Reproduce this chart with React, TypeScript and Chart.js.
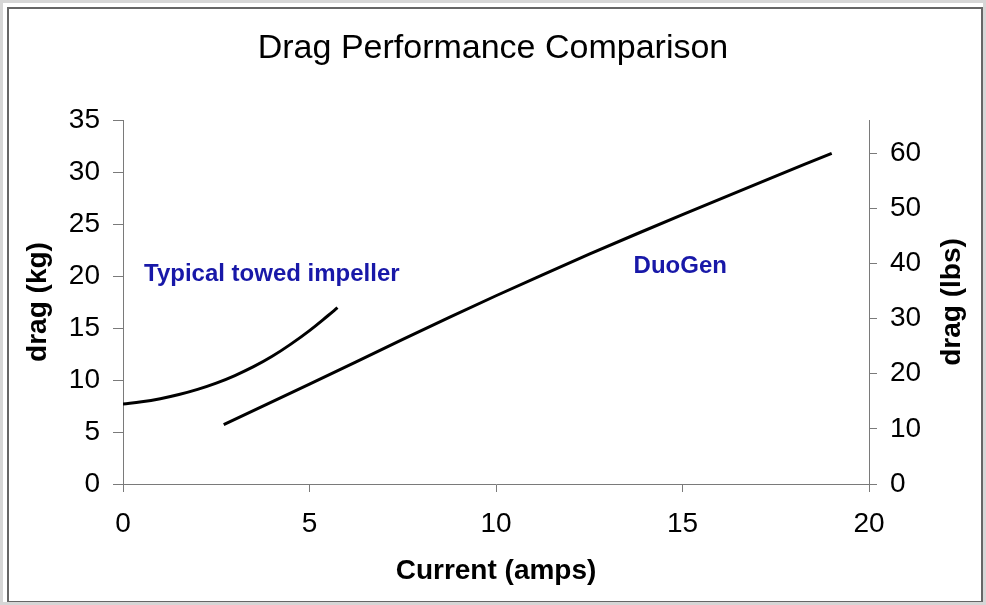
import React, { useEffect, useRef } from "react";
import { Chart, registerables } from "chart.js";

Chart.register(...registerables);

// ---- data ----
const chartTitle = "Drag Performance Comparison";
const xTitle = "Current (amps)";
const yLeftTitle = "drag (kg)";
const yRightTitle = "drag (lbs)";
const seriesNames = ["Typical towed impeller", "DuoGen"];

const xTicks = [0, 5, 10, 15, 20];
const kgTicks = [0, 5, 10, 15, 20, 25, 30, 35];
const lbsTicks = [0, 10, 20, 30, 40, 50, 60];

const impellerCurrent = [0, 0.5, 1, 1.5, 2, 2.5, 3, 3.5, 4, 4.5, 5, 5.5, 5.75];
const impellerDrag = [7.7, 7.9, 8.2, 8.6, 9.1, 9.7, 10.43, 11.28, 12.28, 13.45, 14.75, 16.2, 16.95];

const duogenCurrent = [2.7, 5, 7.5, 10, 12.5, 15, 17.5, 19];
const duogenDrag = [5.7, 9.6, 13.9, 18.1, 22.1, 25.9, 29.6, 31.8];

const FONT = '"Liberation Sans", Arial, Helvetica, sans-serif';

const labelPlugin = {
  id: "seriesLabels",
  afterDatasetsDraw(chart: any, _args: any, opts: any) {
    const ctx = chart.ctx;
    const xs = chart.scales.x;
    const ys = chart.scales.y;
    ctx.save();
    ctx.font = `bold 24px ${FONT}`;
    ctx.fillStyle = "#1818a8";
    ctx.textAlign = "center";
    ctx.textBaseline = "middle";
    (opts.items || []).forEach((it: any) => {
      ctx.fillText(it.text, xs.getPixelForValue(it.x), ys.getPixelForValue(it.y));
    });
    ctx.restore();

    // right axis title, reading bottom-to-top like the left one
    ctx.save();
    ctx.font = `bold 28px ${FONT}`;
    ctx.fillStyle = "#000";
    ctx.textAlign = "center";
    ctx.textBaseline = "middle";
    const ca = chart.chartArea;
    ctx.translate(chart.width - 34, (ca.top + ca.bottom) / 2);
    ctx.rotate(-Math.PI / 2);
    ctx.fillText(yRightTitle, 0, 0);
    ctx.restore();
  },
};

export default function App() {
  const ref = useRef<HTMLCanvasElement | null>(null);

  useEffect(() => {
    if (!ref.current) return;
    const axisColor = "#7a7a7a";
    const tickFont = { family: FONT, size: 28 };
    const titleFont = { family: FONT, size: 28, weight: "bold" as const };

    const chart = new Chart(ref.current, {
      type: "line",
      data: {
        datasets: [
          {
            label: seriesNames[0],
            data: impellerCurrent.map((x, i) => ({ x, y: impellerDrag[i] })),
            borderColor: "#000",
            borderWidth: 3,
            pointRadius: 0,
            tension: 0.4,
            yAxisID: "y",
          },
          {
            label: seriesNames[1],
            data: duogenCurrent.map((x, i) => ({ x, y: duogenDrag[i] })),
            borderColor: "#000",
            borderWidth: 3,
            pointRadius: 0,
            tension: 0.3,
            yAxisID: "y",
          },
        ],
      },
      options: {
        animation: false,
        responsive: false,
        maintainAspectRatio: false,
        layout: { padding: 0, autoPadding: false },
        plugins: {
          legend: { display: false },
          tooltip: { enabled: false },
          title: {
            display: true,
            text: chartTitle,
            color: "#000",
            font: { family: FONT, size: 34, weight: "normal" },
            padding: { top: 28, bottom: 51.2 },
          },
          seriesLabels: {
            items: [
              { text: seriesNames[0], x: 3.99, y: 20.2 },
              { text: seriesNames[1], x: 14.94, y: 20.9 },
            ],
          },
        } as any,
        scales: {
          x: {
            type: "linear",
            min: 0,
            max: 20,
            afterBuildTicks: (s: any) => {
              s.ticks = xTicks.map((v) => ({ value: v }));
            },
            afterFit: (s: any) => {
              s.height = 121;
            },
            ticks: { font: tickFont, color: "#000", padding: 15, maxRotation: 0 },
            grid: { drawOnChartArea: false, drawTicks: true, tickLength: 8, color: axisColor },
            border: { display: true, color: axisColor, width: 1 },
            title: {
              display: true,
              text: xTitle,
              color: "#000",
              font: titleFont,
              padding: { top: 0, bottom: 16.5 },
            },
          },
          y: {
            type: "linear",
            position: "left",
            min: 0,
            max: 35,
            afterBuildTicks: (s: any) => {
              s.ticks = kgTicks.map((v) => ({ value: v }));
            },
            afterFit: (s: any) => {
              s.width = 123;
              s.paddingTop = 0;
              s.paddingBottom = 0;
            },
            ticks: { font: tickFont, color: "#000", padding: 13 },
            grid: { drawOnChartArea: false, drawTicks: true, tickLength: 10, color: axisColor },
            border: { display: true, color: axisColor, width: 1 },
            title: {
              display: true,
              text: yLeftTitle,
              color: "#000",
              font: titleFont,
              padding: { top: 21, bottom: 0 },
            },
          },
          y2: {
            type: "linear",
            position: "right",
            min: 0,
            max: 66,
            afterBuildTicks: (s: any) => {
              s.ticks = lbsTicks.map((v) => ({ value: v }));
            },
            afterFit: (s: any) => {
              s.width = 117;
              s.paddingTop = 0;
              s.paddingBottom = 0;
            },
            ticks: { font: tickFont, color: "#000", padding: 13 },
            grid: { drawOnChartArea: false, drawTicks: true, tickLength: 8, color: axisColor },
            border: { display: true, color: axisColor, width: 1 },
            title: { display: false },
          },
        },
      },
      plugins: [labelPlugin],
    });
    return () => chart.destroy();
  }, []);

  return (
    <div
      style={{
        position: "fixed",
        left: 0,
        top: 0,
        width: 986,
        height: 605,
        background: "#fff",
        boxSizing: "border-box",
        border: "3px solid #d6d6d6",
        overflow: "hidden",
      }}
    >
      <div
        style={{
          position: "absolute",
          left: 4,
          top: 4,
          width: 976,
          height: 596,
          boxSizing: "border-box",
          border: "2px solid #666",
        }}
      />
      <canvas
        ref={ref}
        width={986}
        height={605}
        style={{ position: "absolute", left: -3, top: -3, width: 986, height: 605 }}
      />
    </div>
  );
}
